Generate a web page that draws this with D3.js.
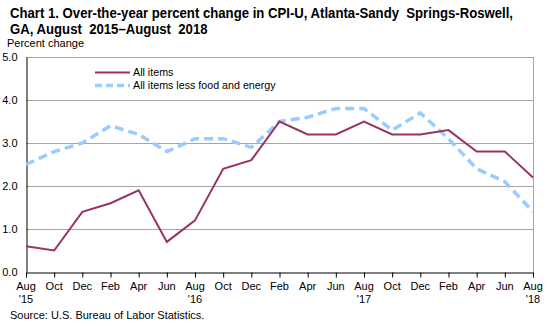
<!DOCTYPE html>
<html>
<head>
<meta charset="utf-8">
<script src="https://cdn.jsdelivr.net/npm/d3@7"></script>
<style>
  body { margin: 0; background: #fff; }
  svg { display: block; font-family: Arial, "Liberation Sans", sans-serif; }
</style>
</head>
<body>
<svg id="chart" width="551" height="326"></svg>
<script>
// Bimonthly observations, Aug 2015 – Aug 2018
const months = ["Aug", "Oct", "Dec", "Feb", "Apr", "Jun", "Aug", "Oct", "Dec", "Feb",
                "Apr", "Jun", "Aug", "Oct", "Dec", "Feb", "Apr", "Jun", "Aug"];
const years = ["'15", "", "", "", "", "", "'16", "", "", "", "", "", "'17", "", "", "", "", "", "'18"];
const allItems = [0.6, 0.5, 1.4, 1.6, 1.9, 0.7, 1.2, 2.4, 2.6, 3.5, 3.2, 3.2, 3.5, 3.2, 3.2, 3.3, 2.8, 2.8, 2.2];
const core = [2.5, 2.8, 3.0, 3.4, 3.2, 2.8, 3.1, 3.1, 2.9, 3.5, 3.6, 3.8, 3.8, 3.3, 3.7, 3.1, 2.4, 2.1, 1.4];
const yTicks = [0, 1, 2, 3, 4, 5];

const svg = d3.select("#chart");
const plotL = 26, plotR = 533, plotT = 57, plotB = 272;

const x = d3.scaleLinear().domain([0, months.length - 1]).range([plotL, plotR]);
const y = d3.scaleLinear().domain([0, 5]).range([plotB, plotT]);

// Title: two lines, condensed horizontally so the first line spans the chart width
const titleLines = [
  "Chart 1. Over-the-year percent change in CPI-U, Atlanta-Sandy  Springs-Roswell,",
  "GA, August  2015–August  2018"
];
const titleG = svg.append("g").attr("font-weight", "bold").attr("font-size", 14).attr("fill", "#000");
const tNodes = titleG.selectAll("text").data(titleLines).join("text")
  .attr("x", 10).attr("y", (d, i) => i === 0 ? 18 : 33.5)
  .style("white-space", "pre").attr("xml:space", "preserve").text(d => d);
const ratio = 503 / tNodes.nodes()[0].getComputedTextLength();
tNodes.each(function () {
  const w = this.getComputedTextLength();
  d3.select(this).attr("textLength", w * ratio).attr("lengthAdjust", "spacingAndGlyphs");
});

svg.append("text").attr("x", 7).attr("y", 47).attr("font-size", 11).text("Percent change");

// Gridlines
svg.append("g").selectAll("line").data(yTicks.filter(d => d > 0)).join("line")
  .attr("x1", plotL).attr("x2", plotR)
  .attr("y1", d => Math.round(y(d)) + 0.5).attr("y2", d => Math.round(y(d)) + 0.5)
  .attr("stroke", "#a6a6a6").attr("stroke-width", 1);

// Right border
svg.append("line").attr("x1", plotR + 0.5).attr("x2", plotR + 0.5).attr("y1", plotT).attr("y2", plotB)
  .attr("stroke", "#a6a6a6");

// Y axis
const yAxis = svg.append("g").attr("transform", `translate(${plotL + 0.5},0)`)
  .call(d3.axisLeft(y).tickValues(yTicks).tickFormat(d3.format(".1f")).tickSize(0).tickPadding(9));
yAxis.select(".domain").attr("stroke", "#000");
yAxis.selectAll("text").attr("font-size", 11).attr("fill", "#000").attr("font-family", "Arial, 'Liberation Sans', sans-serif");

// X axis
const xAxis = svg.append("g").attr("transform", `translate(0,${Math.round(plotB) + 0.5})`)
  .call(d3.axisBottom(x).tickValues(d3.range(months.length)).tickFormat("").tickSize(5).tickSizeOuter(0));
xAxis.select(".domain").attr("stroke", "#000");
xAxis.selectAll(".tick line").attr("stroke", "#000");

const labels = svg.append("g").attr("font-size", 11).attr("text-anchor", "middle");
labels.selectAll("text.m").data(months).join("text").attr("class", "m")
  .attr("x", (d, i) => x(i)).attr("y", 290).text(d => d);
labels.selectAll("text.yr").data(years).join("text").attr("class", "yr")
  .attr("x", (d, i) => x(i)).attr("y", 303).text(d => d);

// Lines
const line = d3.line().x((d, i) => x(i)).y(d => y(d));
svg.append("path").datum(core).attr("d", line).attr("fill", "none")
  .attr("stroke", "#99ccff").attr("stroke-width", 3.5).attr("stroke-dasharray", "9,5");
svg.append("path").datum(allItems).attr("d", line).attr("fill", "none")
  .attr("stroke", "#993366").attr("stroke-width", 2);

// Legend
const lg = svg.append("g").attr("font-size", 10.7);
lg.append("line").attr("x1", 95).attr("x2", 130).attr("y1", 72.5).attr("y2", 72.5)
  .attr("stroke", "#993366").attr("stroke-width", 2);
lg.append("text").attr("x", 133).attr("y", 76).text("All items");
lg.append("line").attr("x1", 95).attr("x2", 130).attr("y1", 85.5).attr("y2", 85.5)
  .attr("stroke", "#99ccff").attr("stroke-width", 3.5).attr("stroke-dasharray", "7,4");
lg.append("text").attr("x", 133).attr("y", 89).text("All items less food and energy");

svg.append("text").attr("x", 10).attr("y", 319).attr("font-size", 11)
  .text("Source: U.S. Bureau of Labor Statistics.");
</script>
</body>
</html>
